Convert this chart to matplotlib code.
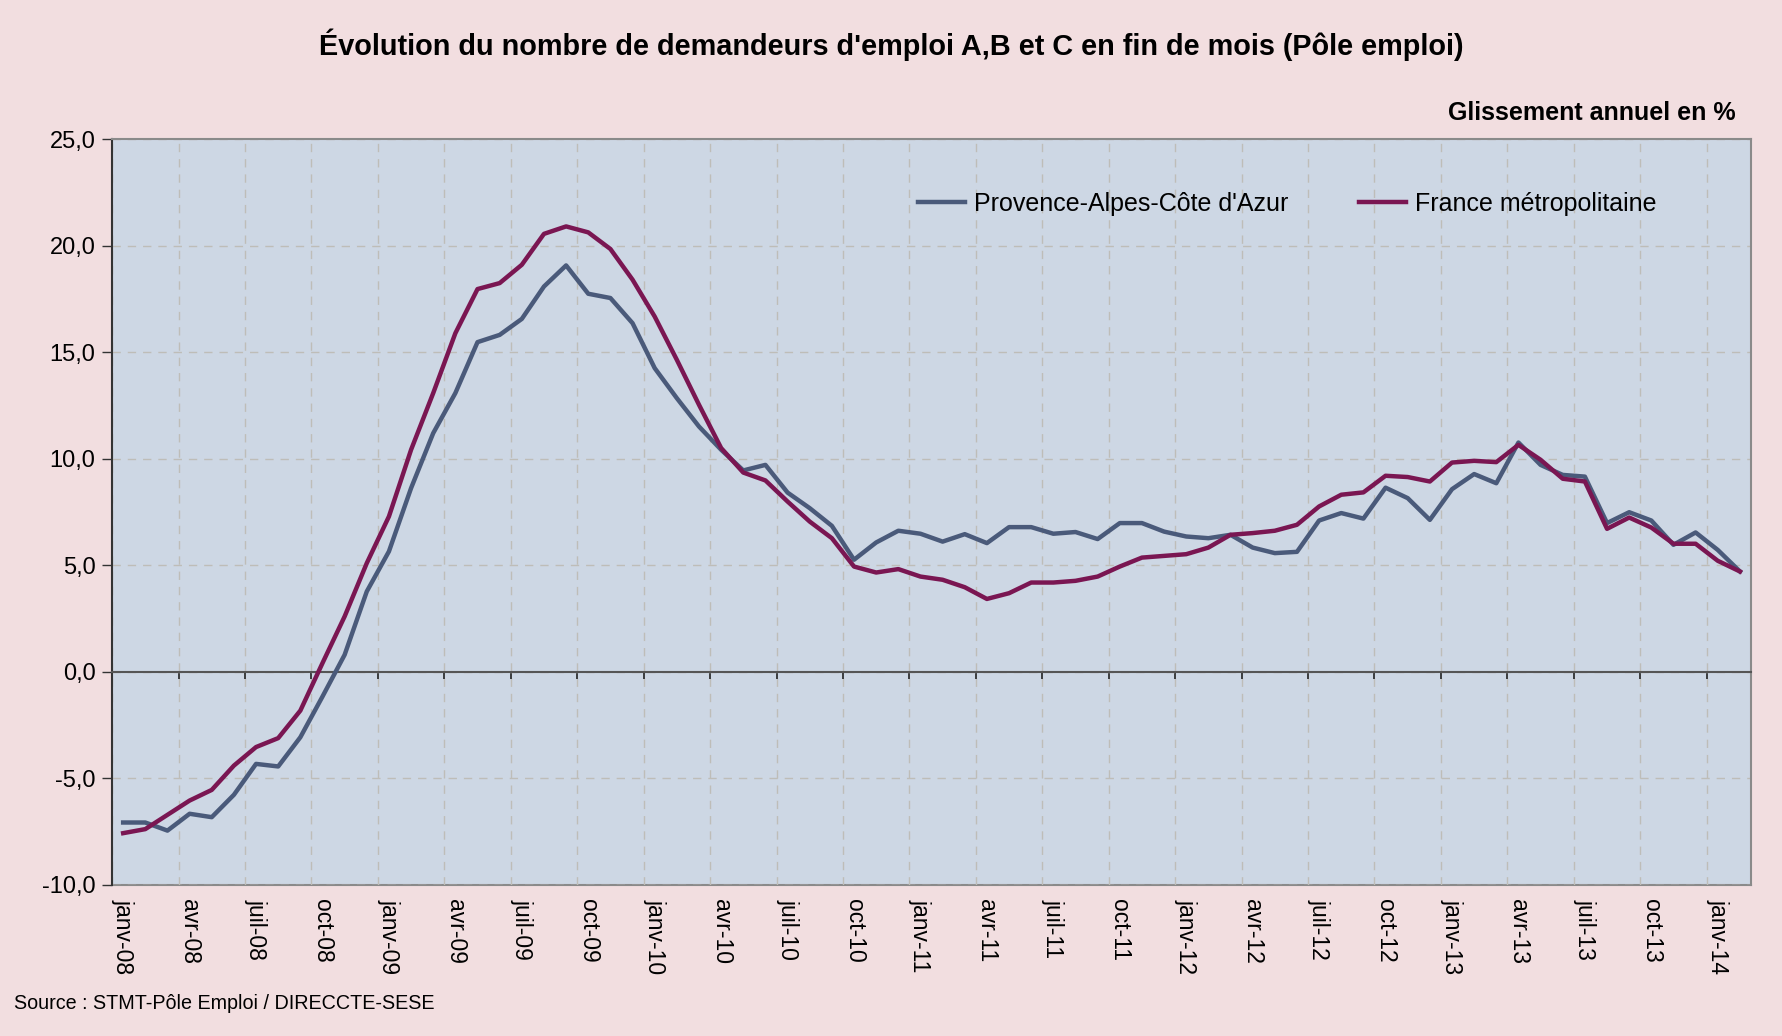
import matplotlib
matplotlib.use("Agg")
import matplotlib.pyplot as plt
import numpy as np

plt.rcParams['font.family'] = ['Liberation Sans', 'DejaVu Sans']

# --- DONNEES (glissement annuel en %, janv-08 -> févr-14) ---
months = ["janv", "févr", "mars", "avr", "mai", "juin",
          "juil", "août", "sept", "oct", "nov", "déc"]
years = ["08", "09", "10", "11", "12", "13", "14"]

paca = [-7.07, -7.07, -7.45, -6.66, -6.82, -5.77, -4.32, -4.44, -3.07, -1.16,
        0.80, 3.77, 5.65, 8.62, 11.20, 13.08, 15.47, 15.81, 16.56, 18.08,
        19.07, 17.74, 17.54, 16.36, 14.25, 12.84, 11.51, 10.42, 9.45, 9.71,
        8.41, 7.68, 6.85, 5.26, 6.07, 6.62, 6.48, 6.11, 6.46, 6.04,
        6.79, 6.79, 6.48, 6.56, 6.23, 6.98, 6.98, 6.58, 6.35, 6.27,
        6.43, 5.83, 5.57, 5.63, 7.10, 7.45, 7.19, 8.64, 8.15, 7.13,
        8.57, 9.28, 8.85, 10.76, 9.71, 9.24, 9.16, 6.98, 7.49, 7.10,
        5.96, 6.54, 5.72, 4.71]

france = [-7.57, -7.38, -6.71, -6.04, -5.54, -4.40, -3.53, -3.11, -1.82, 0.41,
          2.60, 5.10, 7.29, 10.42, 13.08, 15.89, 17.96, 18.24, 19.10, 20.55,
          20.90, 20.62, 19.84, 18.40, 16.67, 14.64, 12.53, 10.50, 9.35, 8.98,
          7.99, 7.05, 6.27, 4.94, 4.66, 4.82, 4.47, 4.32, 3.97, 3.42,
          3.69, 4.19, 4.19, 4.27, 4.47, 4.94, 5.36, 5.44, 5.52, 5.83,
          6.43, 6.51, 6.62, 6.90, 7.76, 8.31, 8.42, 9.20, 9.14, 8.93,
          9.82, 9.90, 9.84, 10.65, 9.95, 9.06, 8.93, 6.71, 7.24, 6.77,
          6.01, 6.01, 5.21, 4.71]

series_names = ["Provence-Alpes-Côte d'Azur", "France métropolitaine"]
yticks = [-10, -5, 0, 5, 10, 15, 20, 25]

# libellés trimestriels (janv, avr, juil, oct)
tick_labels = [f"{months[m]}-{y}" for y in years for m in (0, 3, 6, 9)][:25]

# --- STYLE ---
fig_bg = '#F2DEE0'
ax_bg = '#CDD7E4'
c_paca = '#4A5A7A'
c_fr = '#7A1652'
grid_c = '#BEBDB8'

fig = plt.figure(figsize=(17.82, 10.36), dpi=100)
fig.patch.set_facecolor(fig_bg)
ax = fig.add_axes([0.0629, 0.1458, 0.9197, 0.7200])
ax.set_facecolor(ax_bg)

x = np.arange(len(paca))
ax.plot(x, paca, color=c_paca, lw=3.2, label=series_names[0], zorder=3)
ax.plot(x, france, color=c_fr, lw=3.2, label=series_names[1], zorder=4)

ax.set_xlim(-0.5, len(paca) - 0.5)
ax.set_ylim(-10, 25)

# axe Y
ax.set_yticks(yticks)
ax.set_yticklabels([f"{v:.1f}".replace(".", ",") for v in yticks])
ax.tick_params(axis='y', direction='out', length=7, width=1, color='#333333',
               labelsize=17, pad=5)
ax.yaxis.grid(True, linestyle=(0, (6, 5)), color=grid_c, lw=1)

# axe X : traits aux bornes des catégories, posé sur zéro
ax.spines['bottom'].set_position(('data', 0))
ax.spines['bottom'].set_color('#555555')
ax.spines['bottom'].set_linewidth(1.5)
ax.set_xticks(np.arange(-0.5, len(paca), 3))
ax.set_xticklabels([])
ax.tick_params(axis='x', direction='out', length=5, width=1.2, color='#222222')
ax.xaxis.grid(True, linestyle=(0, (6, 5)), color=grid_c, lw=1)
ax.set_axisbelow(True)

for side in ('top', 'right'):
    ax.spines[side].set_color('#8A8A8A')
    ax.spines[side].set_linewidth(1.5)
ax.spines['left'].set_color('#333333')
ax.spines['left'].set_linewidth(1.5)

# libellés de dates en bas
sec = ax.secondary_xaxis('bottom')
sec.set_xticks(np.arange(0, len(paca), 3)[:len(tick_labels)])
sec.set_xticklabels(tick_labels, rotation=-90, fontsize=16.5, va='top', ha='center')
sec.tick_params(length=0, pad=10)
sec.spines['bottom'].set_color('#8A8A8A')
sec.spines['bottom'].set_linewidth(1.5)

# légende
fig.legend(loc='center left', bbox_to_anchor=(0.5025, 0.803), ncol=2,
           frameon=False, fontsize=18, handlelength=1.9, handletextpad=0.35,
           columnspacing=2.8)

# textes
fig.text(0.5, 0.957, "Évolution du nombre de demandeurs d'emploi A,B et C en fin de mois (Pôle emploi)",
         ha='center', va='center', fontsize=20.8, fontweight='bold')
fig.text(0.974, 0.891, "Glissement annuel en %", ha='right', va='center',
         fontsize=18, fontweight='bold')
fig.text(0.008, 0.031, "Source : STMT-Pôle Emploi / DIRECCTE-SESE", ha='left',
         va='center', fontsize=14.2)

fig.savefig("out.png", dpi=100, facecolor=fig_bg)
